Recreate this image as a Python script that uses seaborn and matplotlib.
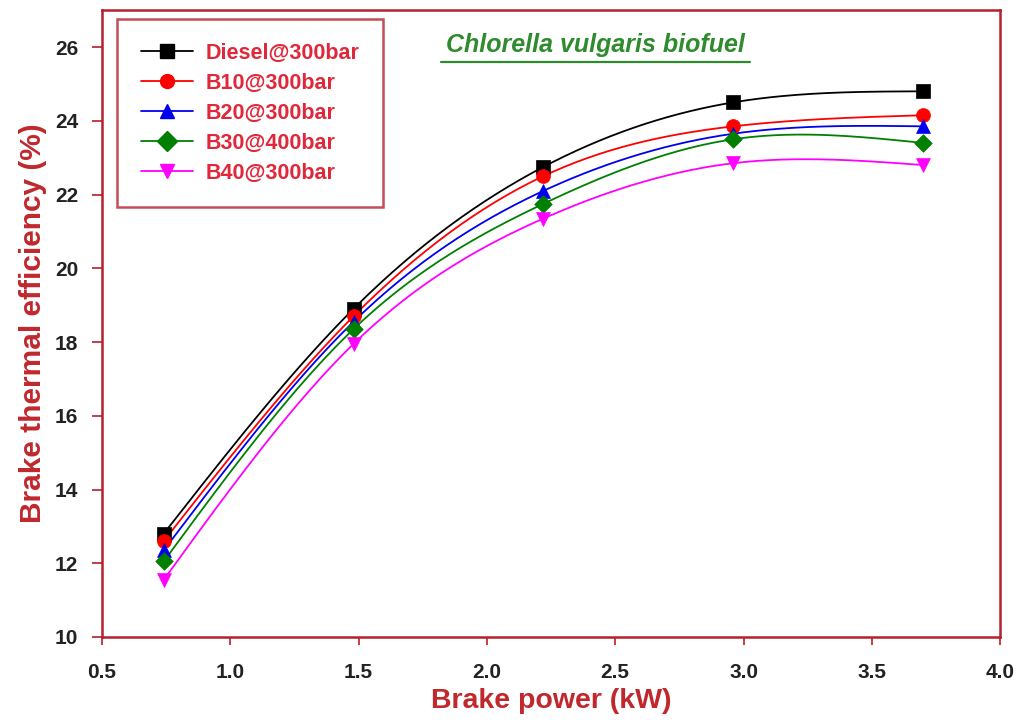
import numpy as np
import pandas as pd
import matplotlib
matplotlib.use("Agg")
import matplotlib.pyplot as plt
import seaborn as sns

power = [0.74, 1.48, 2.22, 2.96, 3.70]
diesel = [12.8, 18.9, 22.75, 24.5, 24.8]
b10 = [12.6, 18.7, 22.5, 23.85, 24.15]
b20 = [12.35, 18.55, 22.1, 23.65, 23.85]
b30 = [12.05, 18.35, 21.75, 23.5, 23.4]
b40 = [11.55, 17.95, 21.35, 22.85, 22.8]
labels = ["Diesel@300bar", "B10@300bar", "B20@300bar", "B30@400bar", "B40@300bar"]
series = [diesel, b10, b20, b30, b40]
colors = ["#000000", "#ff0000", "#0000ee", "#008000", "#ff00ff"]
markers = ["s", "o", "^", "D", "v"]

def natural_spline(x, y, xs):
    x = np.asarray(x, float); y = np.asarray(y, float)
    n = len(x)
    h = np.diff(x)
    A = np.zeros((n, n)); r = np.zeros(n)
    A[0, 0] = 1; A[-1, -1] = 1
    for i in range(1, n - 1):
        A[i, i - 1] = h[i - 1]; A[i, i] = 2 * (h[i - 1] + h[i]); A[i, i + 1] = h[i]
        r[i] = 3 * ((y[i + 1] - y[i]) / h[i] - (y[i] - y[i - 1]) / h[i - 1])
    c = np.linalg.solve(A, r)
    b = np.zeros(n - 1); d = np.zeros(n - 1)
    for i in range(n - 1):
        b[i] = (y[i + 1] - y[i]) / h[i] - h[i] * (2 * c[i] + c[i + 1]) / 3
        d[i] = (c[i + 1] - c[i]) / (3 * h[i])
    idx = np.clip(np.searchsorted(x, xs) - 1, 0, n - 2)
    dx = xs - x[idx]
    return y[idx] + b[idx] * dx + c[idx] * dx ** 2 + d[idx] * dx ** 3

sns.set_theme(style="white")
plt.rcParams['font.family'] = ['Liberation Sans', 'DejaVu Sans']

fig = plt.figure(figsize=(10.21, 7.28), dpi=100)
ax = fig.add_axes([0.100, 0.125, 0.8795, 0.861])

frame = "#b5202e"
xs = np.linspace(power[0], power[-1], 200)
for lab, ys, col, mk in zip(labels, series, colors, markers):
    smooth = pd.DataFrame({"x": xs, "y": natural_spline(power, ys, xs)})
    sns.lineplot(data=smooth, x="x", y="y", ax=ax, color=col, lw=1.3, legend=False)
    pts = pd.DataFrame({"x": power, "y": ys})
    sns.scatterplot(data=pts, x="x", y="y", ax=ax, color=col, marker=mk,
                    s=100 if mk != "D" else 80, edgecolor=col, linewidth=0.5, zorder=5, legend=False)
    ax.plot([], [], color=col, marker=mk, markersize=10, lw=1.3, label=lab)

ax.set_xlim(0.5, 4.0)
ax.set_ylim(10, 27)
ax.set_xticks(np.arange(0.5, 4.01, 0.5))
ax.set_yticks(np.arange(10, 27, 2))
ax.set_xticklabels([f"{v:.1f}" for v in np.arange(0.5, 4.01, 0.5)])
for sp in ax.spines.values():
    sp.set_color(frame); sp.set_linewidth(1.8)
ax.tick_params(axis="x", which="major", direction="out", length=6, width=1.2,
               color=frame, labelsize=15, pad=13, bottom=True)
ax.tick_params(axis="y", which="major", direction="out", length=7, width=1.2,
               color=frame, labelsize=15, pad=10, left=True)
for t in ax.get_xticklabels() + ax.get_yticklabels():
    t.set_fontweight("bold"); t.set_color("#222222")
ax.set_xlabel("Brake power (kW)", fontsize=20.5, fontweight="bold", color="#c0282d", labelpad=4)
ax.set_ylabel("Brake thermal efficiency (%)", fontsize=21.5, fontweight="bold", color="#c0282d", labelpad=6)

leg = ax.legend(loc="upper left", bbox_to_anchor=(0.017, 0.986), borderaxespad=0,
                frameon=True, fancybox=False,
                fontsize=15.5, handlelength=2.4, handletextpad=0.6, labelspacing=0.42,
                borderpad=1.1, edgecolor=frame)
leg.get_frame().set_linewidth(1.8)
for t in leg.get_texts():
    t.set_color("#e0283a"); t.set_fontweight("bold")

ax.text(0.549, 0.945, "Chlorella vulgaris biofuel", transform=ax.transAxes, ha="center", va="center",
        fontsize=18, fontweight="bold", fontstyle="italic", color="#2e8b2e")
ax.plot([0.377, 0.722], [0.917, 0.917], transform=ax.transAxes, color="#2e8b2e", lw=1.6)

fig.savefig("out.png", dpi=100)
